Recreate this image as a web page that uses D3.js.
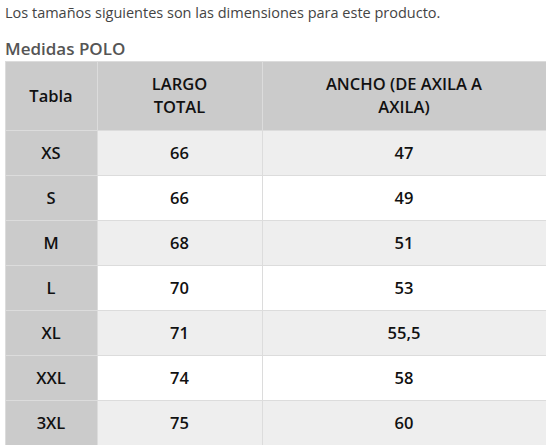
<!DOCTYPE html>
<html><head><meta charset="utf-8">
<script src="https://cdn.jsdelivr.net/npm/d3@7"></script>
<style>body{margin:0;background:#fff}text{font-family:"Open Sans",sans-serif}</style>
</head><body><svg id="c" width="546" height="445"></svg>
<script>
const headers = [['Tabla'], ['LARGO', 'TOTAL'], ['ANCHO (DE AXILA A', 'AXILA)']];
const sizes = ['XS', 'S', 'M', 'L', 'XL', 'XXL', '3XL'];
const largo = ['66', '66', '68', '70', '71', '74', '75'];
const ancho = ['47', '49', '51', '53', '55,5', '58', '60'];

const svg = d3.select('#c');
svg.append('text').attr('x', 5).attr('y', 18).attr('font-size', 14.5).attr('fill', '#444')
  .text('Los tamaños siguientes son las dimensiones para este producto.');
svg.append('text').attr('x', 5).attr('y', 55).attr('font-size', 17).attr('font-weight', 600).attr('fill', '#555')
  .text('Medidas POLO');

const colEdges = [5, 97, 262, 546];
const y = d3.scaleBand().domain(sizes).range([130, 445]);
const headTop = 61;

// header
headers.forEach((h, i) => {
  const x0 = colEdges[i], x1 = colEdges[i + 1];
  svg.append('rect').attr('x', x0).attr('y', headTop).attr('width', x1 - x0).attr('height', 130 - headTop).attr('fill', '#cbcbcb');
  const t = svg.append('text').attr('x', (x0 + x1) / 2).attr('text-anchor', 'middle')
    .attr('font-size', 16.5).attr('font-weight', 600).attr('fill', '#111');
  h.forEach((line, k) => {
    t.append('tspan').attr('x', (x0 + x1) / 2)
      .attr('y', (headTop + 130) / 2 + 6 + (k - (h.length - 1) / 2) * 23).text(line);
  });
});

const rows = svg.selectAll('g.row').data(sizes.map((s, i) => [s, largo[i], ancho[i]]))
  .join('g').attr('class', 'row');
rows.each(function(d, i) {
  const g = d3.select(this);
  d.forEach((v, j) => {
    const x0 = colEdges[j], x1 = colEdges[j + 1];
    g.append('rect').attr('x', x0).attr('y', y(sizes[i])).attr('width', x1 - x0).attr('height', y.bandwidth())
      .attr('fill', j === 0 ? '#cbcbcb' : (i % 2 === 0 ? '#eeeeee' : '#ffffff'));
    g.append('text').attr('x', (x0 + x1) / 2).attr('y', y(sizes[i]) + y.bandwidth() / 2 + 6)
      .attr('text-anchor', 'middle').attr('font-size', 16.5).attr('font-weight', 600).attr('fill', '#111').text(v);
  });
});

// grid lines
const grid = svg.append('g').attr('stroke', '#dcdcdc').attr('stroke-width', 1);
[headTop, ...sizes.map(s => y(s)), 445].forEach(v =>
  grid.append('line').attr('x1', 5).attr('x2', 546).attr('y1', v + 0.5).attr('y2', v + 0.5));
colEdges.forEach(v =>
  grid.append('line').attr('x1', v + 0.5).attr('x2', v + 0.5).attr('y1', headTop).attr('y2', 445));
</script></body></html>
